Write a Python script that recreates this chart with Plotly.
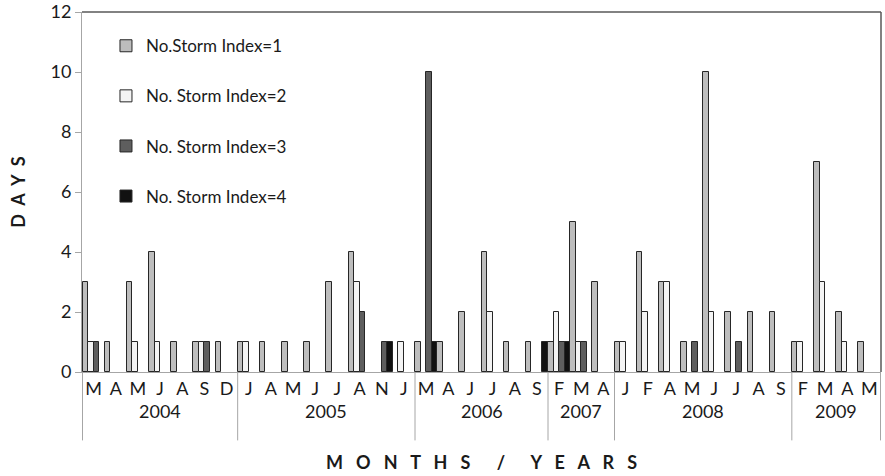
import plotly.graph_objects as go

# ---- data ----
years = ["2004"] * 7 + ["2005"] * 8 + ["2006"] * 6 + ["2007"] * 3 + ["2008"] * 8 + ["2009"] * 4
months = ["M", "A", "M", "J", "A", "S", "D",
          "J", "A", "M", "J", "J", "A", "N", "J",
          "M", "A", "J", "J", "A", "S",
          "F", "M", "A",
          "J", "F", "A", "M", "J", "J", "A", "S",
          "F", "M", "A", "M"]

storm_index_1 = [3, 1, 3, 4, 1, 1, 1,
                 1, 1, 1, 1, 3, 4, 0, 0,
                 1, 1, 2, 4, 1, 1,
                 1, 5, 3,
                 1, 4, 3, 1, 10, 2, 2, 2,
                 1, 7, 2, 1]
storm_index_2 = [1, 0, 1, 1, 0, 1, 0,
                 1, 0, 0, 0, 0, 3, 0, 1,
                 0, 0, 0, 2, 0, 0,
                 2, 1, 0,
                 1, 2, 3, 0, 2, 0, 0, 0,
                 1, 3, 1, 0]
storm_index_3 = [1, 0, 0, 0, 0, 1, 0,
                 0, 0, 0, 0, 0, 2, 1, 0,
                 10, 0, 0, 0, 0, 0,
                 1, 1, 0,
                 0, 0, 0, 1, 0, 1, 0, 0,
                 0, 0, 0, 0]
storm_index_4 = [0, 0, 0, 0, 0, 0, 0,
                 0, 0, 0, 0, 0, 0, 1, 0,
                 1, 0, 0, 0, 0, 1,
                 1, 0, 0,
                 0, 0, 0, 0, 0, 0, 0, 0,
                 0, 0, 0, 0]

series = [
    ("No.Storm Index=1", storm_index_1, "#bdbdbd"),
    ("No. Storm Index=2", storm_index_2, "#f4f4f4"),
    ("No. Storm Index=3", storm_index_3, "#5e5e5e"),
    ("No. Storm Index=4", storm_index_4, "#111111"),
]

x_title = "MONTHS / YEARS"
y_title = "DAYS"

FONT = "Lato"
keys = [f"{y}-{i:02d}" for i, y in enumerate(years)]


def spaced(text, gap):
    sep = "&nbsp;" * gap
    return sep.join(ch if ch != " " else "" for ch in text)


fig = go.Figure()
for i, (name, vals, color) in enumerate(series):
    fig.add_trace(go.Bar(
        x=keys,
        y=[v if v else None for v in vals],
        name=name,
        legendgroup=f"g{i}",
        marker=dict(color=color, line=dict(color="#262626", width=1)),
    ))

# year group labels and dividers
groups = []
for i, y in enumerate(years):
    if not groups or groups[-1][0] != y:
        groups.append([y, i, i])
    else:
        groups[-1][2] = i

shapes = []
annotations = []
bounds = sorted(set([g[1] - 0.5 for g in groups] + [groups[-1][2] + 0.5]))
for b in bounds:
    shapes.append(dict(type="line", xref="x", yref="paper", x0=b, x1=b, y0=0, y1=-0.19,
                       line=dict(color="#a6a6a6", width=1)))
for y, a, b in groups:
    annotations.append(dict(x=(a + b) / 2, y=-0.108, xref="x", yref="paper", text=y,
                            showarrow=False, yanchor="middle",
                            font=dict(family=FONT, size=18, color="#1a1a1a")))
# top and right plot borders
shapes.append(dict(type="line", xref="paper", yref="paper", x0=0, x1=1, y0=1, y1=1,
                   line=dict(color="#595959", width=1.5)))
shapes.append(dict(type="line", xref="paper", yref="paper", x0=1, x1=1, y0=0, y1=1,
                   line=dict(color="#595959", width=1.5)))

fig.update_layout(
    width=885, height=476,
    margin=dict(l=82, r=4, t=12, b=104),
    paper_bgcolor="white", plot_bgcolor="white",
    barmode="group", bargap=0, bargroupgap=0,
    font=dict(family=FONT, size=18, color="#1a1a1a"),
    shapes=shapes, annotations=annotations,
    legend=dict(x=0.030, y=0.955, xanchor="left", yanchor="top",
                font=dict(family=FONT, size=17, color="#1a1a1a"),
                tracegroupgap=25, bgcolor="rgba(0,0,0,0)"),
    xaxis=dict(
        type="category", tickmode="array", tickvals=keys, ticktext=months,
        showline=True, linecolor="#a6a6a6", linewidth=1, ticks="",
        showgrid=False, automargin=False,
        tickfont=dict(family=FONT, size=18, color="#1a1a1a"),
        title=dict(text="<b>" + spaced(x_title, 3) + "</b>", standoff=58,
                   font=dict(family=FONT, size=18, color="#1a1a1a")),
    ),
    yaxis=dict(
        range=[0, 12], dtick=2, showline=True, linecolor="#a6a6a6", linewidth=1,
        ticks="outside", ticklen=6, tickcolor="#a6a6a6", showgrid=False, zeroline=False,
        automargin=False,
        tickfont=dict(family=FONT, size=18, color="#1a1a1a"),
        title=dict(text="<b>" + spaced(y_title, 2) + "</b>", standoff=20,
                   font=dict(family=FONT, size=18, color="#1a1a1a")),
    ),
)

fig.write_html("out.html", config={"displayModeBar": False},
               post_script="document.body.style.margin='0';document.body.style.overflow='hidden';")
